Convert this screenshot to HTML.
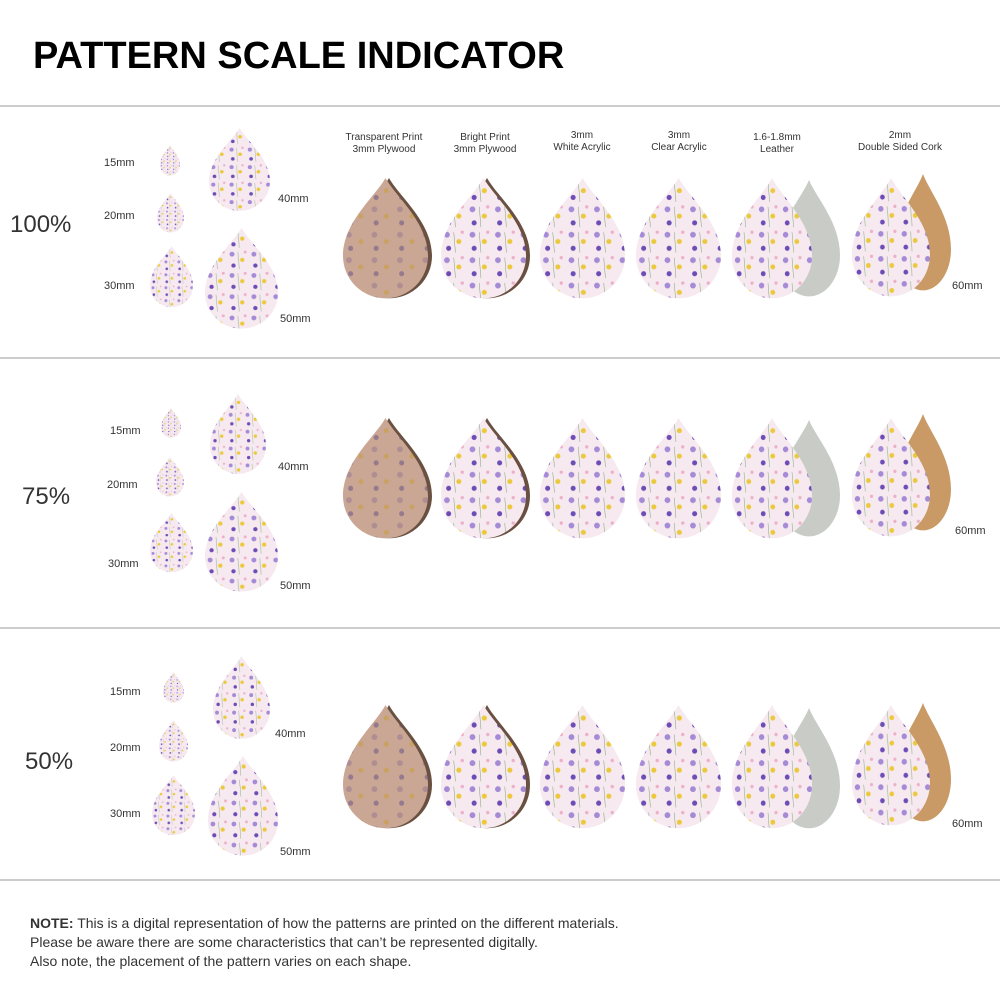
<!DOCTYPE html>
<html><head><meta charset="utf-8"><style>
body{margin:0;background:#fff}
svg{display:block}
text{font-family:"Liberation Sans",sans-serif;fill:#333}
</style></head><body>
<svg width="1000" height="1000" viewBox="0 0 1000 1000" xmlns="http://www.w3.org/2000/svg">
<defs>
<symbol id="d" viewBox="0 0 100 144" preserveAspectRatio="none"><path d="M50,0 C38,22 0,52 0,92 A50,50 0 0 0 100,92 C100,52 62,22 50,0Z"/></symbol>
<pattern id="fl" width="30" height="30" patternUnits="userSpaceOnUse">
<rect width="30" height="30" fill="#f6e9f0"/>
<circle cx="7" cy="7" r="3.4" fill="#a58ad6"/><circle cx="21" cy="15" r="3" fill="#ecc93c"/>
<circle cx="9" cy="23" r="3" fill="#6d4db5"/><circle cx="25" cy="4" r="2" fill="#eeb0c8"/>
<path d="M15,4 L17,28" stroke="#7aa870" stroke-width="0.6"/></pattern>
<pattern id="fw" width="30" height="30" patternUnits="userSpaceOnUse">
<rect width="30" height="30" fill="#caa694"/>
<circle cx="7" cy="7" r="3.4" fill="#ae8e92"/><circle cx="21" cy="15" r="3" fill="#c9a262"/>
<circle cx="9" cy="23" r="3" fill="#957a8d"/></pattern>
</defs>
<text x="33" y="68" font-size="38" font-weight="bold" style="fill:#000">PATTERN SCALE INDICATOR</text>
<g stroke="#999" stroke-width="1"><line x1="0" y1="106" x2="1000" y2="106"/><line x1="0" y1="358" x2="1000" y2="358"/><line x1="0" y1="628" x2="1000" y2="628"/><line x1="0" y1="880" x2="1000" y2="880"/></g>
<g font-size="10" text-anchor="middle">
<text x="384" y="140">Transparent Print</text><text x="384" y="152">3mm Plywood</text>
<text x="485" y="140">Bright Print</text><text x="485" y="152">3mm Plywood</text>
<text x="582" y="138">3mm</text><text x="582" y="150">White Acrylic</text>
<text x="679" y="138">3mm</text><text x="679" y="150">Clear Acrylic</text>
<text x="777" y="140">1.6-1.8mm</text><text x="777" y="152">Leather</text>
<text x="900" y="150">Double Sided Cork</text><text x="900" y="138">2mm</text>
</g>
<g font-size="24"><text x="10" y="232">100%</text><text x="22" y="504">75%</text><text x="25" y="769">50%</text></g>
<g font-size="11">
<text x="104" y="166">15mm</text><text x="104" y="219">20mm</text><text x="104" y="289">30mm</text><text x="278" y="202">40mm</text><text x="280" y="322">50mm</text><text x="952" y="289">60mm</text>
<text x="110" y="434">15mm</text><text x="107" y="488">20mm</text><text x="108" y="567">30mm</text><text x="278" y="470">40mm</text><text x="280" y="589">50mm</text><text x="955" y="534">60mm</text>
<text x="110" y="695">15mm</text><text x="110" y="751">20mm</text><text x="110" y="817">30mm</text><text x="275" y="737">40mm</text><text x="280" y="855">50mm</text><text x="952" y="827">60mm</text>
</g>
<g fill="url(#fl)">
<use href="#d" x="160" y="145" width="20" height="31"/><use href="#d" x="157" y="193" width="27" height="40"/><use href="#d" x="150" y="246" width="43" height="62"/><use href="#d" x="209" y="128" width="61" height="84"/><use href="#d" x="205" y="228" width="73" height="102"/>
<use href="#d" x="161" y="408" width="20" height="30"/><use href="#d" x="156" y="457" width="28" height="40"/><use href="#d" x="150" y="513" width="43" height="60"/><use href="#d" x="210" y="394" width="56" height="81"/><use href="#d" x="205" y="492" width="73" height="101"/>
<use href="#d" x="163" y="672" width="21" height="31"/><use href="#d" x="159" y="720" width="29" height="42"/><use href="#d" x="152" y="775" width="43" height="61"/><use href="#d" x="213" y="656" width="57" height="84"/><use href="#d" x="208" y="756" width="70" height="101"/>
</g>
<g>
<g fill="#c8cbc6"><use href="#d" x="778" y="180" width="62" height="118"/><use href="#d" x="778" y="420" width="62" height="118"/><use href="#d" x="778" y="708" width="62" height="122"/></g>
<g fill="#c99a66"><use href="#d" x="895" y="174" width="56" height="118"/><use href="#d" x="895" y="414" width="56" height="118"/><use href="#d" x="895" y="703" width="56" height="120"/></g>
<g fill="#6a5040"><use href="#d" x="346" y="178" width="86" height="122"/><use href="#d" x="444" y="178" width="86" height="122"/><use href="#d" x="346" y="418" width="86" height="122"/><use href="#d" x="444" y="418" width="86" height="122"/><use href="#d" x="346" y="705" width="86" height="125"/><use href="#d" x="444" y="705" width="86" height="125"/></g>
<g fill="url(#fw)"><use href="#d" x="343" y="178" width="85" height="122"/><use href="#d" x="343" y="418" width="85" height="122"/><use href="#d" x="343" y="705" width="85" height="125"/></g>
<g fill="url(#fl)">
<use href="#d" x="441" y="178" width="85" height="122"/><use href="#d" x="540" y="178" width="85" height="122"/><use href="#d" x="636" y="178" width="85" height="122"/><use href="#d" x="732" y="178" width="80" height="122"/><use href="#d" x="852" y="178" width="78" height="120"/>
<use href="#d" x="441" y="418" width="85" height="122"/><use href="#d" x="540" y="418" width="85" height="122"/><use href="#d" x="636" y="418" width="85" height="122"/><use href="#d" x="732" y="418" width="80" height="122"/><use href="#d" x="852" y="418" width="78" height="120"/>
<use href="#d" x="441" y="705" width="85" height="125"/><use href="#d" x="540" y="705" width="85" height="125"/><use href="#d" x="636" y="705" width="85" height="125"/><use href="#d" x="732" y="705" width="80" height="125"/><use href="#d" x="852" y="705" width="78" height="122"/>
</g>
</g>
<g font-size="14">
<text x="30" y="928"><tspan font-weight="bold">NOTE:</tspan> This is a digital representation of how the patterns are printed on the different materials.</text>
<text x="30" y="947">Please be aware there are some characteristics that can’t be represented digitally.</text>
<text x="30" y="966">Also note, the placement of the pattern varies on each shape.</text>
</g>
</svg>
</body></html>
